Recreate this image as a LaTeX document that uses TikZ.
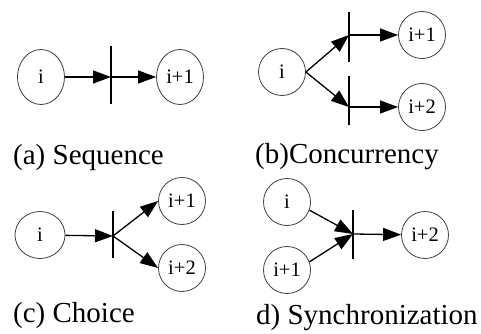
\documentclass[tikz,border=0pt]{standalone}
\usepackage{fontspec}
\setmainfont{Liberation Serif}
\usetikzlibrary{shapes.geometric,arrows.meta}
\begin{document}
\begin{tikzpicture}[x=1pt,y=-1pt,
  place/.style={draw=black!75,line width=0.8pt,ellipse,inner sep=0pt,
    minimum width=47pt,minimum height=47pt,font=\fontsize{20.5}{24}\selectfont},
  tall/.style={minimum height=55pt},
  bar/.style={line width=1.2pt},
  flow/.style={line width=1.3pt,-{Triangle[length=18pt,width=13pt]}},
  caption/.style={anchor=base west,inner sep=0pt,font=\fontsize{29}{34}\selectfont}]
\useasboundingbox (0,0) rectangle (481,334);

% (a) sequence
\node[place,tall] (ai)  at (41,77)  {i};
\node[place,tall] (ai1) at (180,77) {i+1};
\coordinate (ba)  at (111,77);
\coordinate (bat) at (111,46);
\coordinate (bab) at (111,104);
\draw[bar] (bat) -- (bab);
\draw[flow] (ai) -- (ba);
\draw[flow] (ba) -- (ai1);
\node[caption] (capa) at (13,164) {(a) Sequence};

% (b) concurrency
\node[place] (bi)  at (282,72)  {i};
\node[place] (bi1) at (422,35)  {i+1};
\node[place] (bi2) at (422,107) {i+2};
\coordinate (bb1)  at (349,35);
\coordinate (bb1t) at (349,12);
\coordinate (bb1b) at (349,62);
\coordinate (bb2)  at (349,107);
\coordinate (bb2t) at (349,76);
\coordinate (bb2b) at (349,125);
\draw[bar] (bb1t) -- (bb1b);
\draw[bar] (bb2t) -- (bb2b);
\draw[flow] (bi.east) -- (bb1);
\draw[flow] (bi.east) -- (bb2);
\draw[flow] (bb1) -- (bi1);
\draw[flow] (bb2) -- (bi2);
\node[caption] (capb) at (255,163) {(b)Concurrency};

% (c) choice
\node[place,minimum width=50pt] (ci)  at (40,235)  {i};
\node[place] (ci1) at (182,201) {i+1};
\node[place] (ci2) at (182,268) {i+2};
\coordinate (cb)  at (113,236);
\coordinate (cbt) at (113,211);
\coordinate (cbb) at (113,258);
\draw[bar] (cbt) -- (cbb);
\draw[flow] (ci) -- (cb);
\draw[flow] (cb) -- (ci1.west);
\draw[flow] (cb) -- (ci2.west);
\node[caption] (capc) at (13,322) {(c) Choice};

% d) synchronization
\node[place] (di)  at (287,202) {i};
\node[place] (di1) at (287,270) {i+1};
\node[place] (di2) at (425,235) {i+2};
\coordinate (db)  at (353,234);
\coordinate (dbt) at (353,210);
\coordinate (dbb) at (353,259);
\draw[bar] (dbt) -- (dbb);
\draw[flow] (di.-20) -- (db);
\draw[flow] (di1.20) -- (db);
\draw[flow] (db) -- (di2);
\node[caption] (capd) at (256,324) {d) Synchronization};
\end{tikzpicture}
\end{document}
